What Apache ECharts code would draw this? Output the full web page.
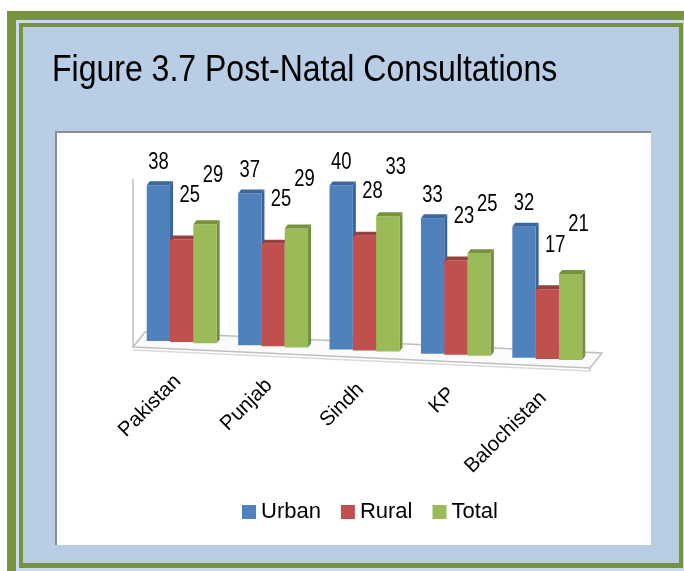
<!DOCTYPE html>
<html>
<head>
<meta charset="utf-8">
<script src="https://cdn.jsdelivr.net/npm/echarts@6/dist/echarts.min.js"></script>
<style>
  html, body { margin: 0; padding: 0; background: #ffffff; }
  #chart { width: 684px; height: 571px; }
</style>
</head>
<body>
<div id="chart"></div>
<script>
// Post-natal consultations by area (%)
const categories = ['Pakistan', 'Punjab', 'Sindh', 'KP', 'Balochistan'];
const seriesNames = ['Urban', 'Rural', 'Total'];
const urban = [38, 37, 40, 33, 32];
const rural = [25, 25, 28, 23, 17];
const total = [29, 29, 33, 25, 21];
const valueMax = 50;
const titleText = 'Figure 3.7 Post-Natal Consultations';

// --- styling ---
const SANS = "'Liberation Sans', Arial, sans-serif";
const GREEN_FRAME = '#77933C';
const BLUE_FILL = '#B9CDE5';
const TILT = 0.046;      // perspective drop of the floor, px per px to the right
const BAR_FRAC = 0.255;  // bar width as a share of the category band
const DX = 3, DY = 4;    // depth offset of the bar tops / sides
const CONDENSE = 0.8;    // horizontal squeeze giving a condensed face

const looks = [
  { front: '#4F81BD', top: '#3B679E', side: '#3A6499', lx: 0, ly: 19 },
  { front: '#C0504D', top: '#97403D', side: '#983F3C', lx: 8, ly: 40 },
  { front: '#9BBB59', top: '#76923C', side: '#738E3D', lx: 8, ly: 45 }
];

function floorY(x, cs, y0) {
  return y0 + TILT * (x - cs.x);
}

function barRenderer(k) {
  const look = looks[k];
  return function (params, api) {
    const i = api.value(0);
    const v = api.value(1);
    const base = api.coord([i, 0]);
    const band = api.size([1, 0])[0];
    const w = band * BAR_FRAC;
    const xL = base[0] - 1.5 * w + k * w;
    const xMid = xL + w / 2;
    const yB = floorY(xMid, params.coordSys, base[1]) + 1;
    const h = base[1] - api.coord([i, v])[1];
    const yT = yB - h;
    return {
      type: 'group',
      children: [
        { type: 'polygon', shape: { points: [[xL + w, yT], [xL + w + DX, yT - DY], [xL + w + DX, yB - DY], [xL + w, yB]] },
          style: { fill: look.side } },
        { type: 'rect', shape: { x: xL, y: yT, width: w, height: h },
          style: { fill: look.front } },
        { type: 'polygon', shape: { points: [[xL, yT], [xL + w, yT], [xL + w + DX, yT - DY], [xL + DX, yT - DY]] },
          style: { fill: look.top } },
        { type: 'text', x: xMid + look.lx, y: yT - DY - look.ly, scaleX: CONDENSE,
          style: { text: String(v), font: '23px ' + SANS, fill: '#000', align: 'center', verticalAlign: 'middle' } }
      ]
    };
  };
}

// floor slab under the bars
function floorRenderer(params, api) {
  const cs = params.coordSys;
  const y0 = api.coord([0, 0])[1];
  const xl = cs.x, xr = cs.x + cs.width;
  const yl = floorY(xl, cs, y0), yr = floorY(xr, cs, y0);
  return {
    type: 'group',
    children: [
      { type: 'polygon',
        shape: { points: [[xl - 3, yl + 8], [xr - 3, yr + 8], [xr + 9, yr - 7], [xl + 9, yl - 7]] },
        style: { fill: '#FBFBFB', stroke: '#BFBFBF', lineWidth: 1.5 } },
      { type: 'line', shape: { x1: xr - 3, y1: yr + 8, x2: xr - 3, y2: yr + 11 },
        style: { stroke: '#BFBFBF', lineWidth: 1.5 } },
      { type: 'line', shape: { x1: xl - 3, y1: yl + 11, x2: xr - 3, y2: yr + 11 },
        style: { stroke: '#DADADA', lineWidth: 1.5 } },
      { type: 'line', shape: { x1: xl - 3, y1: yl + 8, x2: xl - 3, y2: api.coord([0, 39])[1] },
        style: { stroke: '#BFBFBF', lineWidth: 1.5 } }
    ]
  };
}

// category names, slanted along the floor
function categoryRenderer(params, api) {
  const i = api.value(0);
  const base = api.coord([i, 0]);
  const y = floorY(base[0], params.coordSys, base[1]) + 37;
  return {
    type: 'text', x: base[0] - 4, y: y, rotation: Math.PI / 4,
    style: { text: categories[i], font: '20.5px ' + SANS, fill: '#000', align: 'right', verticalAlign: 'middle' }
  };
}

const seriesValues = [urban, rural, total];

const chart = echarts.init(document.getElementById('chart'), null, { renderer: 'canvas' });
chart.setOption({
  backgroundColor: '#ffffff',
  animation: false,
  graphic: [
    { type: 'rect', silent: true, z: -10, shape: { x: 7, y: 11, width: 677, height: 560 }, style: { fill: GREEN_FRAME } },
    { type: 'rect', silent: true, z: -9, shape: { x: 16, y: 20, width: 668, height: 551 }, style: { fill: '#C9D9EE' } },
    { type: 'rect', silent: true, z: -8, shape: { x: 19, y: 23, width: 664, height: 545 }, style: { fill: GREEN_FRAME } },
    { type: 'rect', silent: true, z: -7, shape: { x: 23, y: 27, width: 656, height: 536 }, style: { fill: BLUE_FILL } },
    { type: 'rect', silent: true, z: -6, shape: { x: 55, y: 131, width: 596, height: 414 }, style: { fill: '#ffffff' } },
    { type: 'rect', silent: true, z: -5, shape: { x: 55, y: 131, width: 596, height: 2 }, style: { fill: '#8E8E8E' } },
    { type: 'rect', silent: true, z: -5, shape: { x: 55, y: 131, width: 2, height: 414 }, style: { fill: '#8E8E8E' } },
    // figure caption
    { type: 'text', silent: true, z: 10, x: 52, y: 71, scaleX: 0.865,
      style: { text: titleText, font: '37px ' + SANS, fill: '#000', align: 'left', verticalAlign: 'middle' } }
  ],
  legend: {
    data: seriesNames,
    left: 237, top: 496,
    icon: 'rect', itemWidth: 14, itemHeight: 14, itemGap: 20,
    textStyle: { fontFamily: SANS, fontSize: 22, color: '#000' }
  },
  grid: { left: 136, right: 91, top: 134, bottom: 232 },
  xAxis: { type: 'category', data: categories, show: false },
  yAxis: { type: 'value', min: 0, max: valueMax, show: false },
  series: [
    { type: 'custom', name: 'floor', renderItem: floorRenderer, data: [[0]], z: 1, silent: true },
    { type: 'custom', name: 'names', renderItem: categoryRenderer, data: categories.map((c, i) => [i]), z: 1, silent: true }
  ].concat(seriesNames.map((name, k) => ({
    type: 'custom', name: name, z: 2 + k,
    itemStyle: { color: looks[k].front },
    renderItem: barRenderer(k),
    encode: { x: 0, y: 1 },
    data: seriesValues[k].map((v, i) => [i, v])
  })))
});
</script>
</body>
</html>
